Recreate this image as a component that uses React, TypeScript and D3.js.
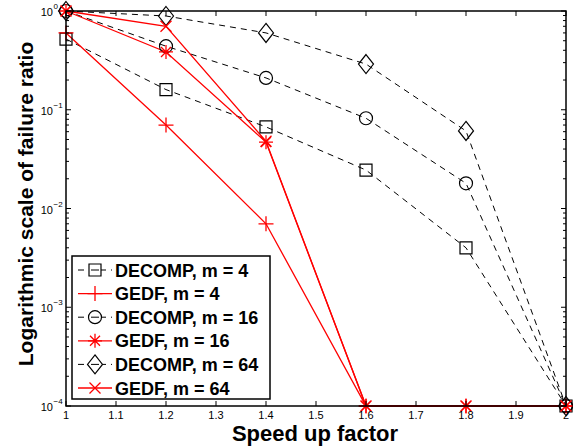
import React from "react";
import * as d3 from "d3";

const xValues = [1.0, 1.2, 1.4, 1.6, 1.8, 2.0];
const decomp4 = [0.52, 0.16, 0.067, 0.0245, 0.004, 0.0001];
const gedf4 = [0.6, 0.07, 0.007, 0.0001, 0.0001, 0.0001];
const decomp16 = [1.0, 0.44, 0.21, 0.082, 0.018, 0.0001];
const gedf16 = [1.0, 0.385, 0.047, 0.0001, 0.0001, 0.0001];
const decomp64 = [1.0, 0.89, 0.6, 0.29, 0.061, 0.0001];
const gedf64 = [1.0, 0.7, 0.048, 0.0001, 0.0001, 0.0001];
const seriesNames = ["DECOMP, m = 4", "GEDF, m = 4", "DECOMP, m = 16", "GEDF, m = 16", "DECOMP, m = 64", "GEDF, m = 64"];
const xTicks = [1, 1.1, 1.2, 1.3, 1.4, 1.5, 1.6, 1.7, 1.8, 1.9, 2];
const yExponents = [0, -1, -2, -3, -4];

type Marker = "square" | "plus" | "circle" | "star" | "diamond" | "x";
const series: { name: string; values: number[]; marker: Marker; dashed: boolean }[] = [
  { name: seriesNames[0], values: decomp4, marker: "square", dashed: true },
  { name: seriesNames[1], values: gedf4, marker: "plus", dashed: false },
  { name: seriesNames[2], values: decomp16, marker: "circle", dashed: true },
  { name: seriesNames[3], values: gedf16, marker: "star", dashed: false },
  { name: seriesNames[4], values: decomp64, marker: "diamond", dashed: true },
  { name: seriesNames[5], values: gedf64, marker: "x", dashed: false },
];

const W = 573, H = 446;
const L = 66, R = 566, T = 11, B = 406;
const FONT = "'Liberation Sans', Arial, Helvetica, sans-serif";

function markerPath(m: Marker, cx: number, cy: number): string {
  const p = d3.path();
  if (m === "square") {
    const s = 6;
    p.rect(cx - s, cy - s, 2 * s, 2 * s);
  } else if (m === "circle") {
    p.moveTo(cx + 6.5, cy);
    p.arc(cx, cy, 6.5, 0, 2 * Math.PI);
  } else if (m === "diamond") {
    const w = 7.5, h = 9.5;
    p.moveTo(cx, cy - h);
    p.lineTo(cx + w, cy);
    p.lineTo(cx, cy + h);
    p.lineTo(cx - w, cy);
    p.closePath();
  } else if (m === "plus") {
    const s = 7.5;
    p.moveTo(cx - s, cy); p.lineTo(cx + s, cy);
    p.moveTo(cx, cy - s); p.lineTo(cx, cy + s);
  } else if (m === "x") {
    const s = 5.5;
    p.moveTo(cx - s, cy - s); p.lineTo(cx + s, cy + s);
    p.moveTo(cx - s, cy + s); p.lineTo(cx + s, cy - s);
  } else if (m === "star") {
    const s = 7, d = 5;
    p.moveTo(cx - s, cy); p.lineTo(cx + s, cy);
    p.moveTo(cx, cy - s); p.lineTo(cx, cy + s);
    p.moveTo(cx - d, cy - d); p.lineTo(cx + d, cy + d);
    p.moveTo(cx - d, cy + d); p.lineTo(cx + d, cy - d);
  }
  return p.toString();
}

export default function App() {
  const x = d3.scaleLinear().domain([1, 2]).range([L, R]);
  const y = d3.scaleLog().domain([1e-4, 1]).range([B, T]);
  const line = d3
    .line<number>()
    .x((_, i) => x(xValues[i]))
    .y((v) => y(v));

  const minor: number[] = [];
  for (let e = -4; e < 0; e++) {
    for (let k = 2; k <= 9; k++) minor.push(k * Math.pow(10, e));
  }

  const legendX = 72, legendY = 256, legendW = 198, legendH = 143;
  const rowY = (i: number) => 270 + i * 23.6;

  return (
    <div style={{ position: "absolute", left: 0, top: 0 }}>
      <svg width={W} height={H} style={{ display: "block", background: "#fff" }} fontFamily={FONT}>
        <rect x={0} y={0} width={W} height={H} fill="#fff" />
        {/* series lines */}
        {series.map((s, si) => (
          <path
            key={"l" + si}
            d={line(s.values) || ""}
            fill="none"
            stroke={s.dashed ? "#000" : "#ff0000"}
            strokeWidth={s.dashed ? 1 : 1.3}
            strokeDasharray={s.dashed ? "6,5" : undefined}
          />
        ))}
        {/* markers */}
        {series.map((s, si) =>
          s.values.map((v, i) => (
            <path
              key={"m" + si + "-" + i}
              d={markerPath(s.marker, x(xValues[i]), y(v))}
              fill="none"
              stroke={s.dashed ? "#000" : "#ff0000"}
              strokeWidth={s.dashed ? 1.2 : 1.3}
            />
          ))
        )}
        {/* axes box */}
        <rect x={L} y={T} width={R - L} height={B - T} fill="none" stroke="#000" strokeWidth={1.5} />
        {/* x ticks */}
        {xTicks.map((t) => (
          <g key={"xt" + t}>
            <line x1={x(t)} x2={x(t)} y1={B} y2={B - 5} stroke="#000" strokeWidth={1} />
            <line x1={x(t)} x2={x(t)} y1={T} y2={T + 5} stroke="#000" strokeWidth={1} />
            <text x={x(t)} y={416} fontSize={11} textAnchor="middle" dominantBaseline="middle" fill="#000">
              {d3.format("")(t)}
            </text>
          </g>
        ))}
        {/* y major ticks */}
        {yExponents.map((e) => (
          <g key={"ye" + e}>
            <line x1={L} x2={L + 5} y1={y(Math.pow(10, e))} y2={y(Math.pow(10, e))} stroke="#000" strokeWidth={1} />
            <line x1={R} x2={R - 5} y1={y(Math.pow(10, e))} y2={y(Math.pow(10, e))} stroke="#000" strokeWidth={1} />
            <text x={53} y={y(Math.pow(10, e)) + 5} fontSize={11} textAnchor="end" fill="#000">
              10
            </text>
            <text x={53.5} y={y(Math.pow(10, e)) - 2} fontSize={8} textAnchor="start" fill="#000">
              {e === 0 ? "0" : "\u2212" + Math.abs(e)}
            </text>
          </g>
        ))}
        {/* y minor ticks */}
        {minor.map((v, i) => (
          <g key={"ym" + i}>
            <line x1={L} x2={L + 3} y1={y(v)} y2={y(v)} stroke="#000" strokeWidth={1} />
            <line x1={R} x2={R - 3} y1={y(v)} y2={y(v)} stroke="#000" strokeWidth={1} />
          </g>
        ))}
        {/* axis labels */}
        <text x={315} y={441} fontSize={22} fontWeight="bold" textAnchor="middle" fill="#000">
          Speed up factor
        </text>
        <text
          transform={`translate(33, 204) rotate(-90)`}
          fontSize={21}
          fontWeight="bold"
          textAnchor="middle"
          fill="#000"
        >
          Logarithmic scale of failure ratio
        </text>
        {/* legend */}
        <rect x={legendX} y={legendY} width={legendW} height={legendH} fill="#fff" stroke="#000" strokeWidth={1.5} />
        {series.map((s, i) => {
          const cy = rowY(i);
          const col = s.dashed ? "#000" : "#ff0000";
          return (
            <g key={"lg" + i}>
              <line
                x1={78}
                x2={112}
                y1={cy}
                y2={cy}
                stroke={col}
                strokeWidth={s.dashed ? 1 : 1.3}
                strokeDasharray={s.dashed ? "6,5" : undefined}
              />
              <path d={markerPath(s.marker, 95, cy)} fill="#fff" stroke={col} strokeWidth={s.dashed ? 1.2 : 1.3} />
              {s.dashed && <line x1={91} x2={99} y1={cy} y2={cy} stroke={col} strokeWidth={1} />}
              <text x={115} y={cy + 6.5} fontSize={18} fontWeight="bold" fill="#000">
                {s.name}
              </text>
            </g>
          );
        })}
      </svg>
    </div>
  );
}
